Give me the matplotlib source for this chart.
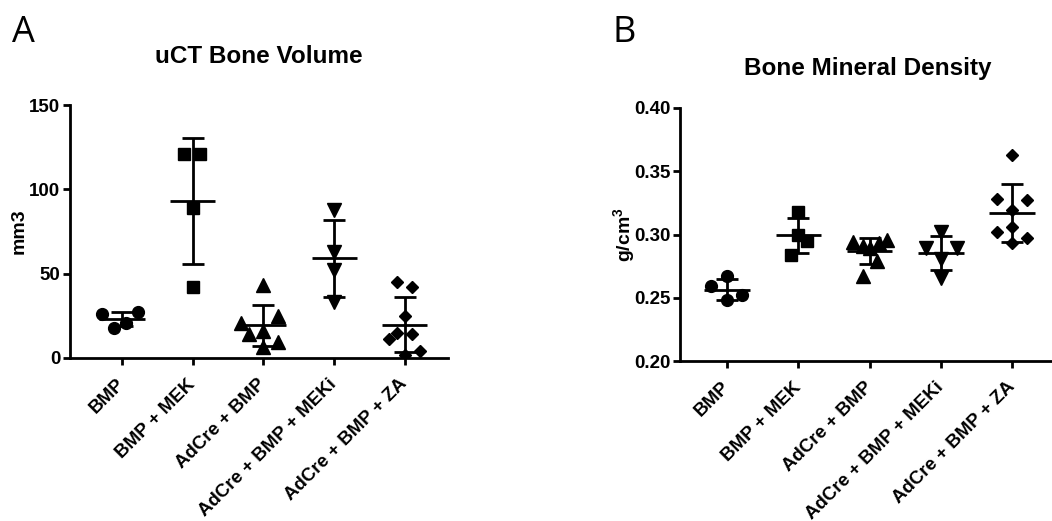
import numpy as np
import matplotlib
matplotlib.use("Agg")
import matplotlib.pyplot as plt

plt.rcParams['font.family'] = ['Liberation Sans', 'DejaVu Sans']
plt.rcParams['font.weight'] = 'bold'
# ust simge icin mathtext de kalin Liberation Sans kullansin
plt.rcParams['mathtext.fontset'] = 'custom'
plt.rcParams['mathtext.rm'] = 'Liberation Sans:bold'
plt.rcParams['mathtext.it'] = 'Liberation Sans:bold'
plt.rcParams['mathtext.bf'] = 'Liberation Sans:bold'

# gruplar
groups = ["BMP", "BMP + MEK", "AdCre + BMP", "AdCre + BMP + MEKi", "AdCre + BMP + ZA"]
markers = ['o', 's', '^', 'v', 'D']
marker_sizes = [8.5, 8, 9.5, 9.5, 6.2]

# A: uCT kemik hacmi (mm3)
vol_bmp = [26, 27, 18, 21]
vol_bmp_mek = [121, 121, 89, 42]
vol_adcre_bmp = [43, 21, 25, 14, 16, 9.5, 6.5]
vol_adcre_meki = [88, 63, 52, 33]
vol_adcre_za = [45, 42, 25, 15, 14, 11, 4, 2]

# B: kemik mineral yogunlugu (g/cm3)
bmd_bmp = [0.259, 0.267, 0.248, 0.252]
bmd_bmp_mek = [0.318, 0.300, 0.295, 0.284]
bmd_adcre_bmp = [0.294, 0.291, 0.289, 0.293, 0.296, 0.279, 0.267]
bmd_adcre_meki = [0.302, 0.289, 0.289, 0.281, 0.266]
bmd_adcre_za = [0.363, 0.328, 0.327, 0.319, 0.302, 0.306, 0.297, 0.293]

# noktalarin yatay kaymasi (grafikteki dagilim)
spread_a = [
    [-0.28, 0.23, -0.11, 0.06],
    [-0.12, 0.11, 0, 0],
    [0, -0.32, 0.21, -0.21, 0, 0.21, 0],
    [0, 0, 0, 0],
    [-0.11, 0.10, 0, -0.11, 0.10, -0.22, 0.21, 0],
]
spread_b = [
    [-0.23, 0, 0, 0.21],
    [0, 0, 0.12, -0.11],
    [-0.23, -0.1, 0, 0.13, 0.24, 0.11, -0.1],
    [0, -0.21, 0.22, 0, 0],
    [0, -0.21, 0.21, 0, -0.21, 0, 0.21, 0],
]


def dot_plot(ax, series, spread, title, title_pad, ylabel, ylim, yticks, fmt, labelpad):
    """Ortalama +/- SS cizgili nokta grafigi"""
    for i, vals in enumerate(series):
        vals = np.array(vals, dtype=float)
        x = i + np.array(spread[i])
        ax.plot(x, vals, markers[i], ms=marker_sizes[i], color='black',
                ls='none', zorder=3)
        m = vals.mean()
        sd = vals.std(ddof=1)
        ax.hlines(m, i - 0.32, i + 0.32, color='black', lw=2, zorder=4)
        ax.errorbar(i, m, yerr=sd, fmt='none', ecolor='black', elinewidth=2,
                    capsize=8, capthick=2, zorder=4)

    ax.set_ylim(*ylim)
    ax.set_yticks(yticks)
    ax.set_yticklabels([fmt.format(t) for t in yticks])
    ax.set_xticks(range(len(groups)))
    ax.set_xticklabels(groups, rotation=45, ha='right', va='center',
                       rotation_mode='anchor')
    ax.tick_params(axis='both', labelsize=13.5, width=2, length=5, pad=2)
    ax.tick_params(axis='x', pad=12)
    for s in ['top', 'right']:
        ax.spines[s].set_visible(False)
    for s in ['left', 'bottom']:
        ax.spines[s].set_linewidth(2)
    ax.set_title(title, fontsize=17.5, fontweight='bold', pad=title_pad)
    ax.set_ylabel(ylabel, fontsize=14, fontweight='bold', labelpad=labelpad)


fig = plt.figure(figsize=(10.52, 5.21), dpi=100)

# panel A
ax1 = fig.add_axes([70 / 1052, 1 - 358 / 521, 378 / 1052, 253 / 521])
dot_plot(ax1, [vol_bmp, vol_bmp_mek, vol_adcre_bmp, vol_adcre_meki, vol_adcre_za],
         spread_a, "uCT Bone Volume", 30, "mm3", (0, 150), [0, 50, 100, 150],
         "{:.0f}", 1)
ax1.set_xlim(-0.735, 4.61)

# panel B
ax2 = fig.add_axes([680 / 1052, 1 - 361 / 521, 375 / 1052, 253 / 521])
dot_plot(ax2, [bmd_bmp, bmd_bmp_mek, bmd_adcre_bmp, bmd_adcre_meki, bmd_adcre_za],
         spread_b, "Bone Mineral Density", 24, "g/cm$^3$", (0.20, 0.40),
         [0.20, 0.25, 0.30, 0.35, 0.40], "{:.2f}", -2)
ax2.set_xlim(-0.66, 4.6)

# panel harfleri
fig.text(12 / 1052, 1 - 42 / 521, "A", fontsize=26, fontweight='normal',
         family=['Open Sans', 'DejaVu Sans'])
fig.text(613 / 1052, 1 - 42 / 521, "B", fontsize=26, fontweight='normal',
         family=['Open Sans', 'DejaVu Sans'])

fig.savefig("out.png", dpi=100)
